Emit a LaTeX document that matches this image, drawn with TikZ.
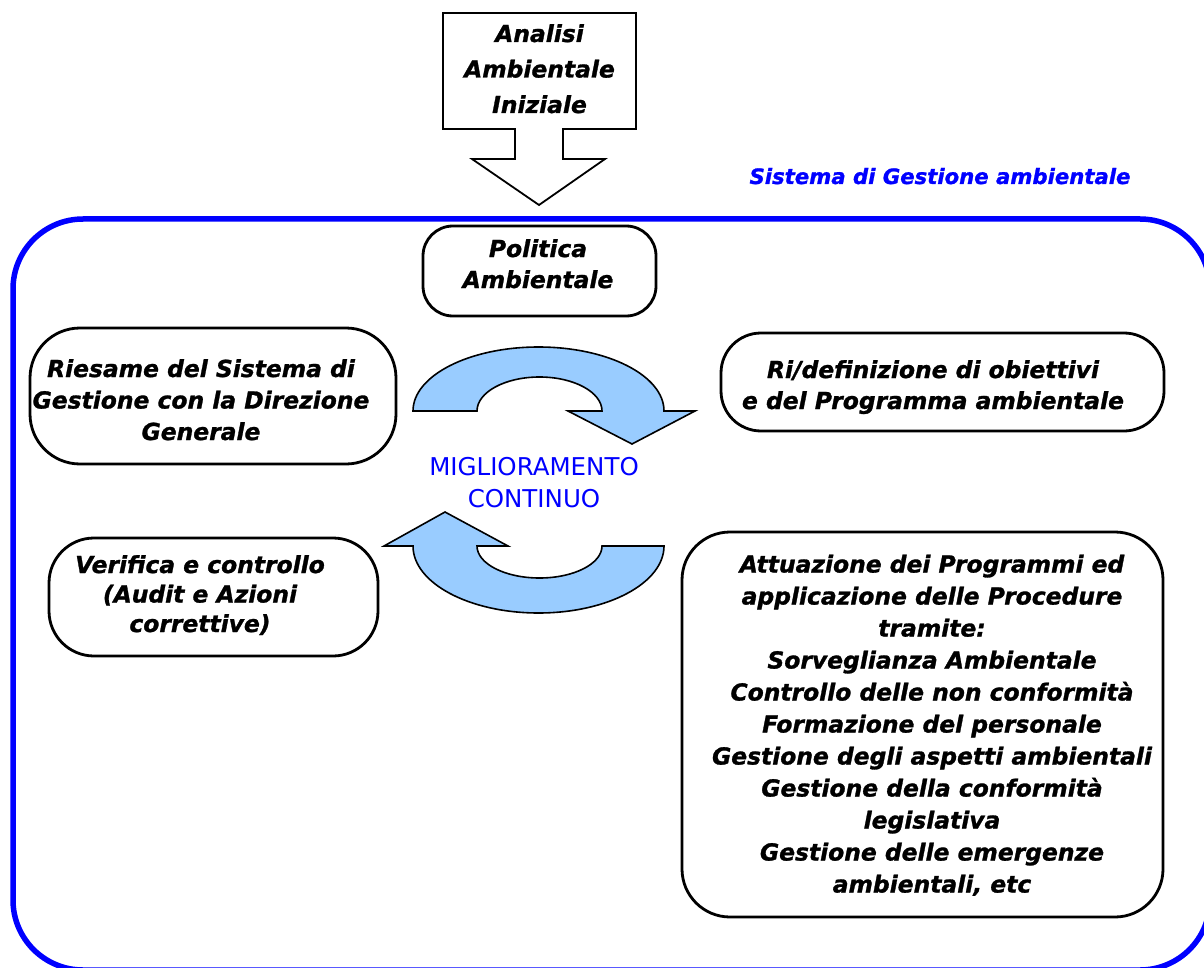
\documentclass[tikz,border=0pt]{standalone}
\usepackage{fontspec}
\newfontfamily\vf{DejaVu Sans}[BoldItalicFeatures={FakeBold=1.2}]
\definecolor{frameblue}{HTML}{0000FF}
\definecolor{lightarrow}{HTML}{99CCFF}
\begin{document}
\begin{tikzpicture}[x=1pt,y=-1pt,
  rbox/.style={draw=black, line width=2.8pt, rounded corners=#1, inner sep=0pt},
  btext/.style={font=\vf\fontsize{23.4}{#1}\bfseries\itshape\selectfont, align=center, inner sep=0pt},
  cyc/.style={draw=black, line width=1.6pt, fill=lightarrow, line join=miter},
  frame/.style={draw=frameblue, line width=5.5pt, rounded corners=70pt}]
\path[use as bounding box, clip] (0,0) rectangle (1204,968);
\fill[white] (0,0) rectangle (1204,968);

% outer management-system frame
\draw[frame] (13,219) rectangle (1210,970);
\node[font=\vf\fontsize{21.2}{26}\bfseries\itshape\selectfont, text=frameblue, anchor=base, inner sep=0pt] (sga) at (940,184) {Sistema di Gestione ambientale};

% initial analysis block arrow
\draw[line width=1.8pt, fill=white, line join=miter] (443,13) -- (636,13) -- (636,129) -- (563,129) -- (563,159) -- (605,159) -- (539,205) -- (472,159) -- (515,159) -- (515,129) -- (443,129) -- cycle;
\node[btext=35.5] (aai) at (539.5,70.4) {\strut Analisi\\\strut Ambientale\\\strut Iniziale};

% boxes
\node[rbox=30pt, minimum width=233pt, minimum height=90pt] (pol) at (539.5,271) {};
\node[btext=31] (tpol) at (538,266.3) {\strut Politica\\\strut Ambientale};

\node[rbox=50pt, minimum width=366pt, minimum height=136pt] (ries) at (213,396) {};
\node[btext=31.5] (tries) at (201,402.2) {\strut Riesame del Sistema di\\\strut Gestione con la Direzione\\\strut Generale};

\node[rbox=40pt, minimum width=443pt, minimum height=98pt] (ridef) at (942.5,382) {};
\node[btext=31] (tridef) at (933,387.3) {\strut Ri/definizione di obiettivi\\\strut e del Programma ambientale};

\node[rbox=45pt, minimum width=329pt, minimum height=118pt] (ver) at (213.5,597) {};
\node[btext=29.5] (tver) at (200,596.6) {\strut Verifica e controllo\\\strut (Audit e Azioni\\\strut correttive)};

\node[rbox=48pt, minimum width=481pt, minimum height=385pt] (att) at (922.5,724.5) {};
\node[btext=32] (tatt) at (932,726.1) {\strut Attuazione dei Programmi ed\\\strut applicazione delle Procedure\\\strut tramite:\\\strut Sorveglianza Ambientale\\\strut Controllo delle non conformità\\\strut Formazione del personale\\\strut Gestione degli aspetti ambientali\\\strut Gestione della conformità\\\strut legislativa\\\strut Gestione delle emergenze\\\strut ambientali, etc};

% continuous improvement cycle
\draw[cyc] (413,411) arc[start angle=180, end angle=360, x radius=125.5, y radius=64] -- (695,411) -- (632,444) -- (568,411) -- (602,411) arc[start angle=360, end angle=180, x radius=62.5, y radius=34] -- cycle;
\draw[cyc] (413,546) arc[start angle=180, end angle=0, x radius=125.5, y radius=67] -- (602,546) arc[start angle=0, end angle=180, x radius=62.5, y radius=32] -- (508,546) -- (445,512) -- (384,546) -- cycle;
\node[font=\vf\fontsize{24.5}{32}\selectfont, text=frameblue, align=center, inner sep=0pt] (mc) at (534,484.6) {\strut MIGLIORAMENTO\\\strut CONTINUO};
\end{tikzpicture}
\end{document}
